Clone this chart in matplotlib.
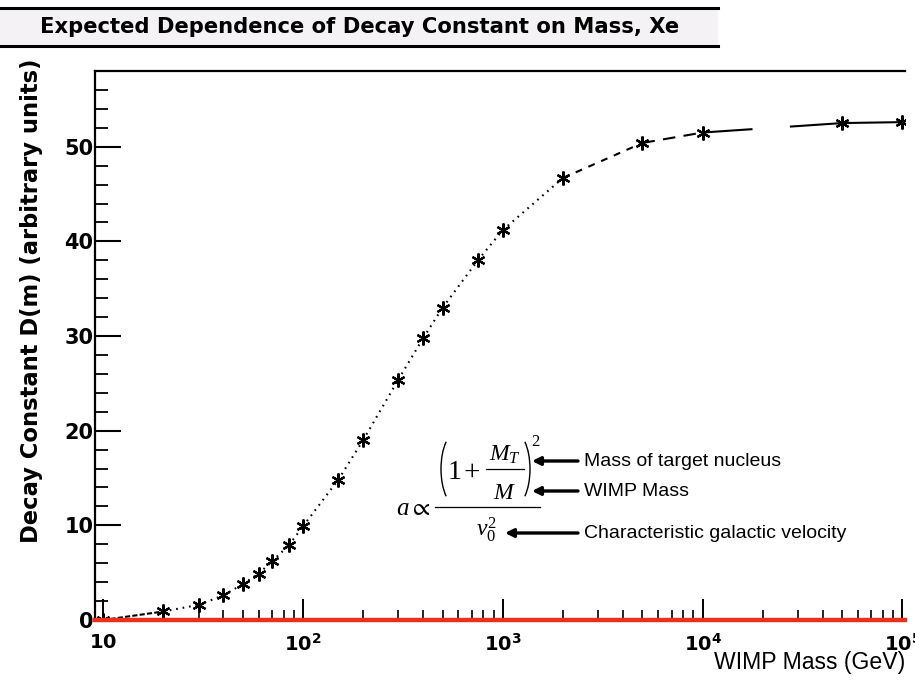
import matplotlib
matplotlib.use("Agg")
import matplotlib.pyplot as plt
from matplotlib.patches import Rectangle, Arc
from matplotlib.lines import Line2D
from matplotlib.ticker import LogLocator, MultipleLocator, FixedLocator, NullFormatter

plt.rcParams['mathtext.fontset'] = 'custom'
plt.rcParams['mathtext.rm'] = 'Liberation Serif'
plt.rcParams['mathtext.it'] = 'Liberation Serif:italic'
plt.rcParams['mathtext.bf'] = 'DejaVu Sans:bold'
plt.rcParams['mathtext.fallback'] = 'stix'
plt.rcParams['lines.scale_dashes'] = False

# ---- data ----
mass = [10, 20, 30, 40, 50, 60, 70, 85, 100, 150, 200, 300, 400, 500,
        750, 1000, 2000, 5000, 10000, 50000, 100000]
decay = [0.0, 0.9, 1.6, 2.6, 3.8, 4.9, 6.2, 7.9, 9.9, 14.8, 19.0, 25.4,
         29.8, 33.0, 38.0, 41.2, 46.7, 50.4, 51.5, 52.5, 52.6]
xtick_vals = [10, 100, 1000, 10000, 100000]
xtick_labels = ['$\\mathbf{10}$', '$\\mathbf{10^{2}}$', '$\\mathbf{10^{3}}$',
                '$\\mathbf{10^{4}}$', '$\\mathbf{10^{5}}$']
ytick_vals = [0, 10, 20, 30, 40, 50]

title = "Expected Dependence of Decay Constant on Mass, Xe"
ylabel = "Decay Constant D(m) (arbitrary units)"
xlabel = "WIMP Mass (GeV)"
notes = ["Mass of target nucleus", "WIMP Mass", "Characteristic galactic velocity"]

# segment line styles (between consecutive points)
seg_styles = ['--'] + [(0, (1.2, 3.5))] * 15 + [(0, (5, 5)), (0, (9, 6)), (0, (36, 27)), '-']

W, H = 915, 684
fig = plt.figure(figsize=(W / 100, H / 100), dpi=100)

def fx(px):
    return px / W

def fy(py):
    return 1 - py / H

ax = fig.add_axes([fx(95), fy(620), fx(905) - fx(95), fy(71) - fy(620)])
ax.set_xscale('log')
ax.set_xlim(9.1, 1.03e5)
ax.set_ylim(0, 58.0)

for i in range(len(mass) - 1):
    ax.plot(mass[i:i + 2], decay[i:i + 2], color='black', lw=1.5,
            linestyle=seg_styles[i], solid_capstyle='butt', zorder=3)
ax.plot(mass, decay, linestyle='none', marker=(6, 2, 0), markersize=10,
        mew=1.6, color='black', zorder=4)

ax.axhline(0, color='#e8321e', lw=3.2, zorder=5, clip_on=False)

ax.spines['right'].set_visible(False)
ax.spines['bottom'].set_visible(False)
ax.spines['left'].set_linewidth(1.6)
ax.spines['top'].set_linewidth(1.6)

ax.xaxis.set_major_locator(FixedLocator(xtick_vals))
ax.set_xticklabels(xtick_labels)
ax.xaxis.set_minor_locator(LogLocator(base=10, subs=range(2, 10), numticks=20))
ax.xaxis.set_minor_formatter(NullFormatter())
ax.yaxis.set_major_locator(FixedLocator(ytick_vals))
ax.yaxis.set_minor_locator(MultipleLocator(2))

ax.tick_params(axis='x', which='major', direction='in', length=15, width=1.4,
               pad=9, labelsize=14, top=False)
ax.tick_params(axis='x', which='minor', direction='in', length=7, width=1.2, top=False)
ax.tick_params(axis='y', which='major', direction='in', length=19, width=1.5,
               pad=1, labelsize=15, right=False)
ax.tick_params(axis='y', which='minor', direction='in', length=9, width=1.3, right=False)
for lab in ax.get_yticklabels():
    lab.set_fontweight('bold')
    lab.set_family('DejaVu Sans')

# banner
fig.patches.append(Rectangle((0, fy(47)), fx(718), fy(8) - fy(47),
                             transform=fig.transFigure, facecolor='#f4f2f5',
                             edgecolor='none', zorder=0))
for yy in (8, 46):
    fig.lines.append(Line2D([0, fx(718)], [fy(yy), fy(yy)], transform=fig.transFigure,
                            color='black', lw=2.2))
fig.text(fx(360), fy(27), title, ha='center', va='center', fontsize=15.2,
         fontweight='bold', family='DejaVu Sans')

fig.text(fx(32), fy(301), ylabel, rotation=90, ha='center', va='center',
         fontsize=16.3, fontweight='bold', family='DejaVu Sans')
fig.text(fx(905), fy(663), xlabel, ha='right', va='center', fontsize=16.6,
         family='Liberation Sans')

# ---- formula  a ∝ (1 + M_T/M)^2 / v_0^2, composed of pieces ----
def hline(x0, x1, y, lw=0.9):
    fig.lines.append(Line2D([fx(x0), fx(x1)], [fy(y), fy(y)],
                            transform=fig.transFigure, color='black', lw=lw))

fig.text(fx(396), fy(515), r'$a \propto$', ha='left', va='baseline', fontsize=18)
hline(435, 540, 507)
fig.patches.append(Arc((fx(458), fy(469)), fx(34), 76 / H, theta1=108, theta2=252,
                       transform=fig.transFigure, color='black', lw=1.0))
fig.patches.append(Arc((fx(513), fy(469)), fx(34), 76 / H, theta1=-72, theta2=72,
                       transform=fig.transFigure, color='black', lw=1.0))
fig.text(fx(447), fy(479), r'$1$', ha='left', va='baseline', fontsize=20)
fig.text(fx(463), fy(479), r'$+$', ha='left', va='baseline', fontsize=21)
hline(486, 524, 469)
fig.text(fx(505), fy(461), r'$M_T$', ha='center', va='baseline', fontsize=17)
fig.text(fx(505), fy(499), r'$M$', ha='center', va='baseline', fontsize=17)
fig.text(fx(531), fy(446), r'$2$', ha='left', va='baseline', fontsize=12)
fig.text(fx(486), fy(530), r'$v_0^2$', ha='center', va='center', fontsize=17)

note_y = [461, 491, 533]
arrow_x = [532, 532, 505]
for t, yy, ax_end in zip(notes, note_y, arrow_x):
    fig.text(fx(584), fy(yy), t, ha='left', va='center', fontsize=14,
             family='Liberation Sans')
    ax.annotate('', xy=(fx(ax_end), fy(yy)), xytext=(fx(578), fy(yy)),
                xycoords='figure fraction', textcoords='figure fraction',
                arrowprops=dict(arrowstyle='-|>', color='black', lw=2.4,
                                mutation_scale=12, shrinkA=0, shrinkB=0))

fig.savefig('out.png', dpi=100)
